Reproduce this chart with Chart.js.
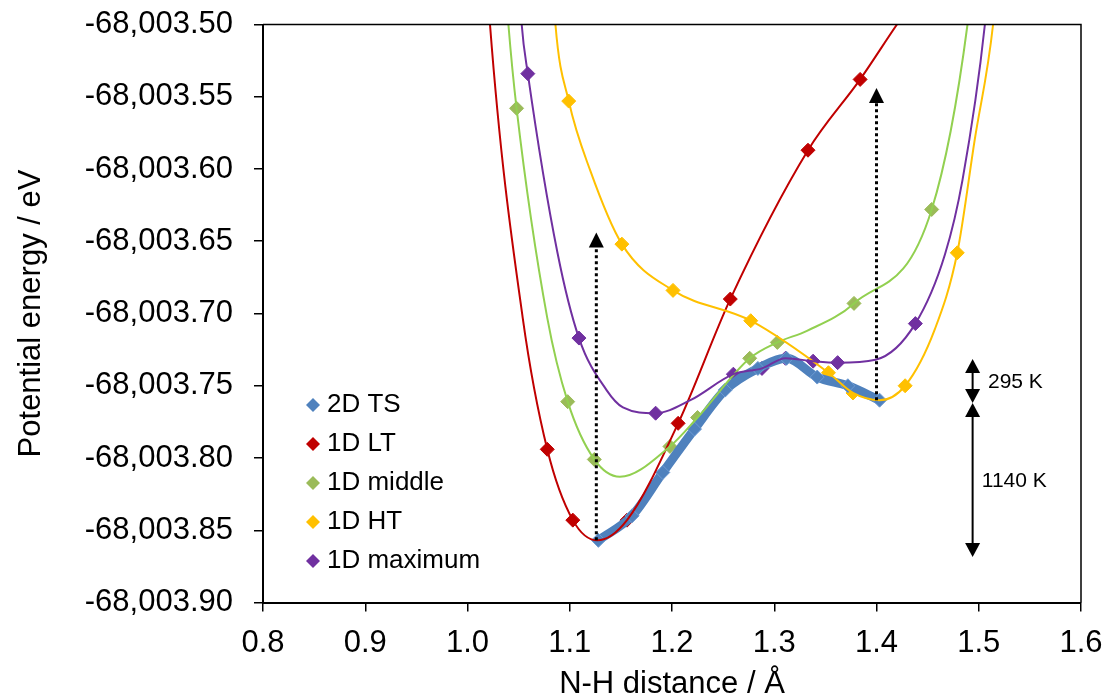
<!DOCTYPE html>
<html>
<head>
<meta charset="utf-8">
<script src="https://cdn.jsdelivr.net/npm/chart.js@4.4.1/dist/chart.umd.min.js"></script>
<style>
  html, body { margin: 0; padding: 0; background: #fff; }
  canvas { display: block; }
</style>
</head>
<body>
<canvas id="energyChart" width="1105" height="698"></canvas>
<script>
// axis ticks
var xTicks = [0.8, 0.9, 1.0, 1.1, 1.2, 1.3, 1.4, 1.5, 1.6];
var yTicks = [-68003.90, -68003.85, -68003.80, -68003.75, -68003.70, -68003.65, -68003.60, -68003.55, -68003.50];

// markers (N-H distance / A, energy / eV)
var tsX = [1.128, 1.161, 1.191, 1.222, 1.252, 1.284, 1.312, 1.342, 1.372, 1.403];
var tsY = [-68003.857, -68003.840, -68003.810, -68003.780, -68003.753, -68003.738, -68003.731, -68003.744, -68003.750, -68003.760];

var ltX = [1.078, 1.103, 1.156, 1.206, 1.257, 1.333, 1.384];
var ltY = [-68003.794, -68003.843, -68003.843, -68003.776, -68003.690, -68003.587, -68003.538];

var midX = [1.048, 1.098, 1.124, 1.198, 1.225, 1.276, 1.303, 1.378, 1.454];
var midY = [-68003.558, -68003.761, -68003.801, -68003.792, -68003.772, -68003.731, -68003.720, -68003.693, -68003.628];

var htX = [1.099, 1.151, 1.201, 1.277, 1.353, 1.377, 1.428, 1.479];
var htY = [-68003.553, -68003.652, -68003.684, -68003.705, -68003.741, -68003.755, -68003.750, -68003.658];

var maxX = [1.059, 1.109, 1.184, 1.260, 1.288, 1.311, 1.338, 1.362, 1.438];
var maxY = [-68003.534, -68003.717, -68003.769, -68003.742, -68003.738, -68003.731, -68003.733, -68003.734, -68003.707];

// smooth curves (they run off the top of the plot)
var ltCurveX = [1.017, 1.022, 1.054, 1.078, 1.103, 1.127, 1.156, 1.206, 1.257, 1.333, 1.384, 1.420, 1.460];
var ltCurveY = [-68003.44, -68003.50, -68003.703, -68003.794, -68003.843, -68003.857, -68003.843, -68003.776, -68003.690, -68003.587, -68003.538, -68003.50, -68003.46];

var midCurveX = [1.035, 1.040, 1.048, 1.078, 1.098, 1.124, 1.149, 1.198, 1.225, 1.276, 1.303, 1.332, 1.378, 1.454, 1.489, 1.496];
var midCurveY = [-68003.45, -68003.50, -68003.558, -68003.703, -68003.761, -68003.801, -68003.813, -68003.792, -68003.772, -68003.731, -68003.720, -68003.712, -68003.693, -68003.628, -68003.50, -68003.45];

var htCurveX = [1.082, 1.086, 1.099, 1.120, 1.151, 1.201, 1.277, 1.353, 1.377, 1.403, 1.428, 1.457, 1.479, 1.496, 1.514, 1.520];
var htCurveY = [-68003.45, -68003.50, -68003.553, -68003.601, -68003.652, -68003.684, -68003.705, -68003.741, -68003.755, -68003.760, -68003.750, -68003.711, -68003.658, -68003.580, -68003.50, -68003.45];

var maxCurveX = [1.049, 1.053, 1.059, 1.088, 1.109, 1.136, 1.152, 1.184, 1.218, 1.260, 1.288, 1.311, 1.338, 1.362, 1.399, 1.438, 1.467, 1.484, 1.506, 1.512];
var maxCurveY = [-68003.45, -68003.50, -68003.534, -68003.658, -68003.717, -68003.753, -68003.765, -68003.769, -68003.760, -68003.742, -68003.738, -68003.731, -68003.733, -68003.734, -68003.732, -68003.707, -68003.659, -68003.608, -68003.50, -68003.45];

// arrows drawn over the plot
var dottedArrows = [
    { x: 1.126, from: -68003.857, to: -68003.644 },
    { x: 1.400, from: -68003.760, to: -68003.544 }
];
var gapArrows = [
    { x: 1.494, from: -68003.7315, to: -68003.762, label: '295 K', lx: 1.509, ly: -68003.7474 },
    { x: 1.494, from: -68003.762, to: -68003.8685, label: '1140 K', lx: 1.503, ly: -68003.8159 }
];

var FONT = '"Liberation Sans", Arial, sans-serif';

function toPoints(xs, ys) {
    return xs.map(function (x, i) { return { x: x, y: ys[i] }; });
}

function markerSet(label, xs, ys, color, border, order) {
    return {
        label: label,
        data: toPoints(xs, ys),
        showLine: false,
        pointStyle: 'rectRot',
        pointRadius: 7,
        pointBackgroundColor: color,
        pointBorderColor: border,
        pointBorderWidth: 1,
        isMarker: true,
        order: order
    };
}

function curveSet(xs, ys, color, width, order) {
    return {
        label: '',
        data: toPoints(xs, ys),
        showLine: true,
        borderColor: color,
        borderWidth: width,
        pointRadius: 0,
        cubicInterpolationMode: 'monotone',
        isMarker: false,
        order: order
    };
}

function arrowHead(ctx, x, y, dir, w, h) {
    // dir -1 points up, +1 points down
    ctx.beginPath();
    ctx.moveTo(x, y);
    ctx.lineTo(x - w / 2, y - dir * h);
    ctx.lineTo(x + w / 2, y - dir * h);
    ctx.closePath();
    ctx.fill();
}

var overlay = {
    id: 'overlay',
    afterDatasetsDraw: function (chart) {
        var ctx = chart.ctx;
        var xs = chart.scales.x, ys = chart.scales.y;
        var area = chart.chartArea;
        ctx.save();

        // frame top + right
        ctx.strokeStyle = '#000';
        ctx.lineWidth = 1.5;
        ctx.beginPath();
        ctx.moveTo(area.left, area.top);
        ctx.lineTo(area.right, area.top);
        ctx.lineTo(area.right, area.bottom);
        ctx.stroke();

        ctx.fillStyle = '#000';
        // dotted arrows
        dottedArrows.forEach(function (a) {
            var px = xs.getPixelForValue(a.x);
            var y0 = ys.getPixelForValue(a.from);
            var y1 = ys.getPixelForValue(a.to);
            ctx.setLineDash([3, 3]);
            ctx.lineWidth = 3;
            ctx.beginPath();
            ctx.moveTo(px, y0);
            ctx.lineTo(px, y1 + 14);
            ctx.stroke();
            ctx.setLineDash([]);
            arrowHead(ctx, px, y1, -1, 15, 15);
        });

        // double headed gap arrows
        gapArrows.forEach(function (a) {
            var px = xs.getPixelForValue(a.x);
            var y0 = ys.getPixelForValue(a.to);
            var y1 = ys.getPixelForValue(a.from);
            ctx.lineWidth = 2;
            ctx.beginPath();
            ctx.moveTo(px, y0 - 10);
            ctx.lineTo(px, y1 + 10);
            ctx.stroke();
            arrowHead(ctx, px, y1, -1, 15, 14);
            arrowHead(ctx, px, y0, 1, 15, 14);
            ctx.font = '21px ' + FONT;
            ctx.textAlign = 'left';
            ctx.textBaseline = 'middle';
            ctx.fillText(a.label, xs.getPixelForValue(a.lx), ys.getPixelForValue(a.ly));
        });

        // legend inside the plot
        var lx = area.left + 50, ly = area.top + 380.5;
        ctx.font = '26px ' + FONT;
        ctx.textAlign = 'left';
        ctx.textBaseline = 'middle';
        chart.data.datasets.filter(function (d) { return d.isMarker; }).forEach(function (d, i) {
            var y = ly + i * 39;
            ctx.fillStyle = d.pointBackgroundColor;
            ctx.beginPath();
            ctx.moveTo(lx - 7, y);
            ctx.lineTo(lx, y - 7);
            ctx.lineTo(lx + 7, y);
            ctx.lineTo(lx, y + 7);
            ctx.closePath();
            ctx.fill();
            ctx.fillStyle = '#000';
            ctx.fillText(d.label, lx + 14, y);
        });
        ctx.restore();
    }
};

var ctx1 = document.getElementById('energyChart');
var energyChart = new Chart(ctx1, {
    type: 'scatter',
    data: {
        datasets: [
            // markers of the 1D cuts sit under the 2D TS band, the fitted lines on top
            markerSet('2D TS', tsX, tsY, '#4F81BD', '#6E9BD3', 11),
            markerSet('1D LT', ltX, ltY, '#C00000', '#C00000', 20),
            markerSet('1D middle', midX, midY, '#9BBB59', '#9BBB59', 19),
            markerSet('1D HT', htX, htY, '#FFC000', '#FFC000', 18),
            markerSet('1D maximum', maxX, maxY, '#7030A0', '#7030A0', 17),
            curveSet(tsX, tsY, '#4F81BD', 9, 12),
            curveSet(ltCurveX, ltCurveY, '#C00000', 2, 5),
            curveSet(midCurveX, midCurveY, '#92D050', 2, 4),
            curveSet(htCurveX, htCurveY, '#FFC000', 2, 3),
            curveSet(maxCurveX, maxCurveY, '#7030A0', 2, 2)
        ]
    },
    options: {
        responsive: false,
        animation: false,
        devicePixelRatio: 1,
        layout: { padding: { left: 0, right: 24, top: 24.5, bottom: 0 } },
        plugins: {
            legend: { display: false },
            tooltip: { enabled: false }
        },
        scales: {
            x: {
                type: 'linear',
                min: 0.8,
                max: 1.6,
                afterBuildTicks: function (scale) {
                    scale.ticks = xTicks.map(function (v) { return { value: v }; });
                },
                afterFit: function (scale) {
                    scale.height = 95.5;
                    scale.paddingLeft = 0;
                    scale.paddingRight = 0;
                },
                grid: { drawOnChartArea: false, tickLength: 9, color: '#000', lineWidth: 1.5 },
                border: { color: '#000', width: 2 },
                ticks: {
                    color: '#000',
                    padding: 13,
                    font: { family: FONT, size: 31 },
                    callback: function (v) { return Number(v).toFixed(1); }
                },
                title: {
                    display: true,
                    text: 'N-H distance / Å',
                    color: '#000',
                    font: { family: FONT, size: 31 },
                    padding: { top: 0, bottom: -5.5 }
                }
            },
            y: {
                type: 'linear',
                min: -68003.90,
                max: -68003.50,
                afterBuildTicks: function (scale) {
                    scale.ticks = yTicks.map(function (v) { return { value: v }; });
                },
                afterFit: function (scale) {
                    scale.width = 263;
                    scale.paddingTop = 0;
                    scale.paddingBottom = 0;
                },
                grid: { drawOnChartArea: false, tickLength: 9, color: '#000', lineWidth: 1.5 },
                border: { color: '#000', width: 2 },
                ticks: {
                    color: '#000',
                    padding: 21,
                    font: { family: FONT, size: 31 },
                    callback: function (v) {
                        return Number(v).toLocaleString('en-US', { minimumFractionDigits: 2, maximumFractionDigits: 2 });
                    }
                },
                title: {
                    display: true,
                    text: 'Potential energy / eV',
                    color: '#000',
                    font: { family: FONT, size: 31 },
                    padding: { top: 13, bottom: 0 }
                }
            }
        }
    },
    plugins: [overlay]
});
</script>
</body>
</html>
